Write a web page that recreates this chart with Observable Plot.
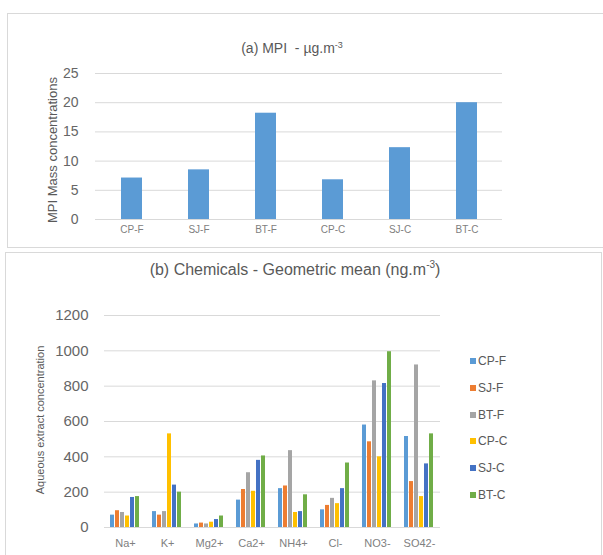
<!DOCTYPE html>
<html><head><meta charset="utf-8">
<script src="https://cdn.jsdelivr.net/npm/d3@7"></script>
<script src="https://cdn.jsdelivr.net/npm/@observablehq/plot@0.6"></script>
<style>
body{margin:0;background:#fff;font-family:"Liberation Sans",Arial,sans-serif;}
#wrap{position:relative;width:603px;height:555px;overflow:hidden;background:#fff;}
.box{position:absolute;border:1px solid #d9d9d9;}
.ttl{position:absolute;color:#595959;white-space:nowrap;transform:translate(-50%,-50%);}
.ylab{position:absolute;color:#595959;white-space:nowrap;transform:translate(-50%,-50%) rotate(-90deg);}
.leg{position:absolute;font-size:12px;color:#595959;display:flex;align-items:center;transform:translateY(-50%);}
.leg span.sw{display:inline-block;width:6px;height:6px;margin-right:2px;}
svg{position:absolute;left:0;}
</style></head><body><div id="wrap"></div>
<script>
// ---- data ----
const sites = ["CP-F", "SJ-F", "BT-F", "CP-C", "SJ-C", "BT-C"];
const mpiValues = [7.1, 8.5, 18.2, 6.8, 12.3, 20.0];
const ions = ["Na+", "K+", "Mg2+", "Ca2+", "NH4+", "Cl-", "NO3-", "SO42-"];
const cpF = [70, 90, 20, 155, 220, 100, 580, 515];
const sjF = [95, 70, 25, 215, 235, 125, 485, 260];
const btF = [85, 90, 20, 310, 435, 165, 830, 920];
const cpC = [65, 530, 30, 205, 85, 135, 400, 175];
const sjC = [170, 240, 45, 380, 90, 220, 815, 360];
const btC = [175, 200, 65, 405, 185, 365, 995, 530];
const mpiTicks = [0, 5, 10, 15, 20, 25];
const chemTicks = [0, 200, 400, 600, 800, 1000, 1200];
const seriesColors = ["#5B9BD5", "#ED7D31", "#A5A5A5", "#FFC000", "#4472C4", "#70AD47"];

const wrap = document.getElementById("wrap");
function add(html){ wrap.insertAdjacentHTML("beforeend", html); }

// boxes
add('<div class="box" style="left:7px;top:13px;width:600px;height:233px;"></div>');
add('<div class="box" style="left:5px;top:252px;width:595px;height:310px;"></div>');

// ---- top chart ----
const mpiData = sites.map((s, i) => ({site: s, value: mpiValues[i]}));
const chartA = Plot.plot({
  width: 603, height: 245,
  marginLeft: 95, marginRight: 101, marginTop: 73, marginBottom: 26,
  style: {fontFamily: '"Liberation Sans", Arial, sans-serif', background: "transparent", overflow: "visible"},
  x: {domain: sites, paddingInner: 0.69, paddingOuter: 0.345, label: null},
  y: {domain: [0, 25], label: null},
  marks: [
    Plot.gridY(mpiTicks, {stroke: "#d9d9d9", strokeOpacity: 1}),
    Plot.axisY(mpiTicks, {tickSize: 0, tickPadding: 17, fontSize: 14, fill: "#666666", label: null, tickFormat: d => String(d)}),
    Plot.axisX({tickSize: 0, tickPadding: 6, fontSize: 10, fill: "#808080", label: null}),
    Plot.barY(mpiData, {x: "site", y: "value", fill: "#5B9BD5"})
  ]
});
chartA.style.top = "0px";
wrap.appendChild(chartA);
add('<div class="ttl" style="left:292px;top:48px;font-size:14px;">(a) MPI&nbsp;&nbsp;- µg.m<sup style="font-size:9px">-3</sup></div>');
add('<div class="ylab" style="left:52px;top:150px;font-size:13px;">MPI Mass concentrations</div>');

// ---- bottom chart ----
const seriesArrays = [cpF, sjF, btF, cpC, sjC, btC];
const chemData = [];
ions.forEach((ion, i) => sites.forEach((s, j) => chemData.push({ion, site: s, value: seriesArrays[j][i]})));
const chartB = Plot.plot({
  width: 603, height: 303,
  marginLeft: 103, marginRight: 162, marginTop: 63, marginBottom: 28,
  style: {fontFamily: '"Liberation Sans", Arial, sans-serif', background: "transparent", overflow: "visible"},
  fx: {domain: ions, paddingInner: 0, paddingOuter: 0, label: null},
  x: {domain: sites, axis: null, paddingInner: 0.15, paddingOuter: 0.935},
  y: {domain: [0, 1200], label: null},
  color: {domain: sites, range: seriesColors},
  marks: [
    Plot.gridY(chemTicks, {stroke: "#d9d9d9", strokeOpacity: 1}),
    Plot.axisY(chemTicks, {tickSize: 0, tickPadding: 16, fontSize: 15, fill: "#666666", label: null, tickFormat: d => String(d)}),
    Plot.axisFx({anchor: "bottom", tickSize: 0, tickPadding: 12, fontSize: 11, fill: "#808080", label: null}),
    Plot.barY(chemData, {fx: "ion", x: "site", y: "value", fill: "site"})
  ]
});
chartB.style.top = "252px";
wrap.appendChild(chartB);
add('<div class="ttl" style="left:295px;top:269px;font-size:16px;">(b) Chemicals - Geometric mean (ng.m<sup style="font-size:10px">-3</sup>)</div>');
add('<div class="ylab" style="left:40px;top:420px;font-size:11px;">Aqueous extract concentration</div>');

// legend
sites.forEach((s, i) => {
  add(`<div class="leg" style="left:470px;top:${361 + i * 26.8}px;"><span class="sw" style="background:${seriesColors[i]}"></span>${s}</div>`);
});
</script>
</body></html>
